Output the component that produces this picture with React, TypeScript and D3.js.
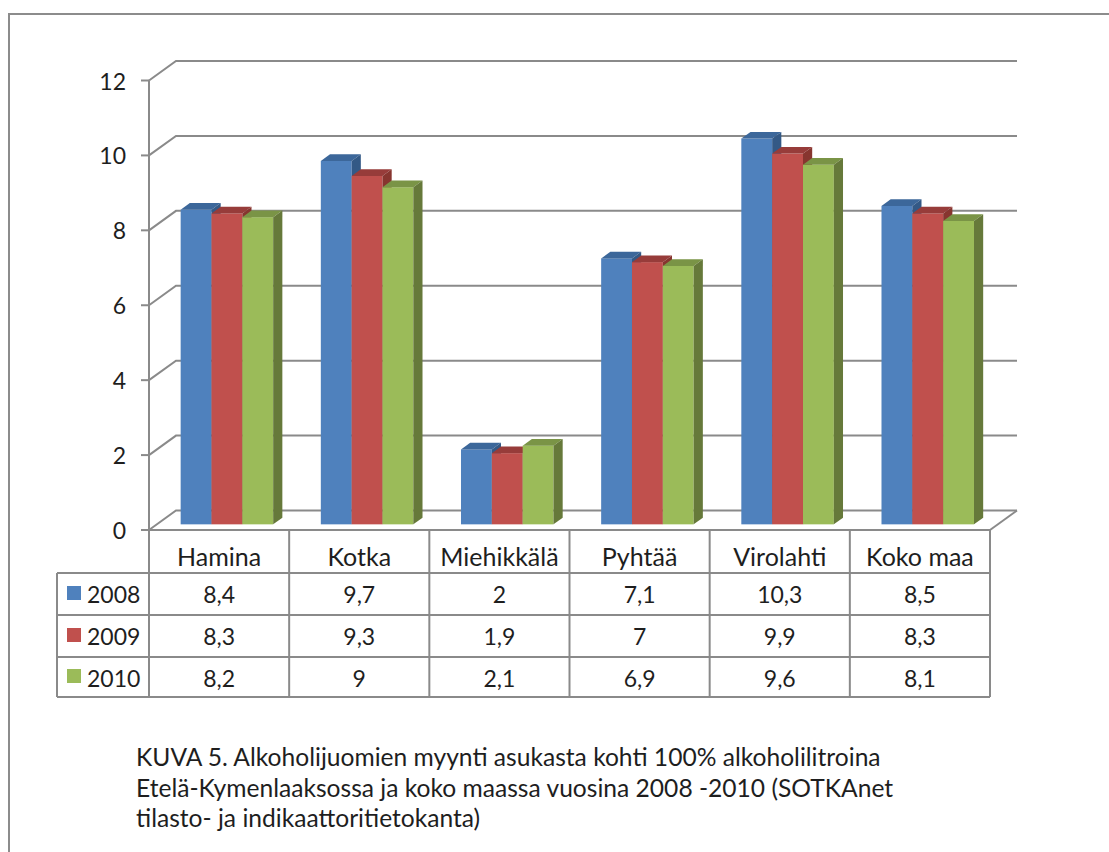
import React from "react";
import * as d3 from "d3";

const categories = ["Hamina", "Kotka", "Miehikkälä", "Pyhtää", "Virolahti", "Koko maa"];
const years = ["2008", "2009", "2010"];
const values2008 = [8.4, 9.7, 2, 7.1, 10.3, 8.5];
const values2009 = [8.3, 9.3, 1.9, 7, 9.9, 8.3];
const values2010 = [8.2, 9, 2.1, 6.9, 9.6, 8.1];
const yTicks = [0, 2, 4, 6, 8, 10, 12];
const captionLines = [
  "KUVA 5. Alkoholijuomien myynti asukasta kohti 100% alkoholilitroina",
  "Etelä-Kymenlaaksossa ja koko maassa vuosina 2008 -2010 (SOTKAnet",
  "tilasto- ja indikaattoritietokanta)",
];

const seriesValues = [values2008, values2009, values2010];
const frontColors = ["#4F81BD", "#C0504D", "#9BBB59"];
const topColors = ["#3C679A", "#973C3A", "#7A9446"];
const sideColors = ["#335986", "#87352F", "#66793A"];

const W = 1109;
const H = 852;
const FONT = "Lato, 'Open Sans', sans-serif";
const GRID = "#8A8A8A";
const TEXT = "#1E1E1E";

// plot geometry
const left = 149;
const right = 990;
const yBottom = 530;
const yTop = 80.5;
const depthX = 27;
const depthY = -19.5;
const barF0 = 0.29;
const barF1 = 0.63;

// table geometry
const legendLeft = 57;
const rowTops = [530, 573, 615, 657, 697];

const fmt = (v: number) => String(v).replace(".", ",");

export default function App() {
  const y = d3.scaleLinear().domain([0, 12]).range([yBottom, yTop]);
  const x = d3
    .scaleBand<string>()
    .domain(categories)
    .range([left, right])
    .paddingInner(0.34)
    .paddingOuter(0.17);
  const xs = d3.scaleBand<string>().domain(years).range([0, x.bandwidth()]);
  const cols = d3.scaleBand<string>().domain(categories).range([left, right]);

  const sx0 = depthX * barF0, sy0 = depthY * barF0;
  const sx1 = depthX * barF1, sy1 = depthY * barF1;

  const bars: React.ReactNode[] = [];
  categories.forEach((c, ci) => {
    years.forEach((yr, si) => {
      const v = seriesValues[si][ci];
      const xa = (x(c) as number) + (xs(yr) as number);
      const xb = xa + xs.bandwidth();
      const yv = y(v);
      const y0 = y(0);
      const pts = (arr: number[][]) => arr.map((p) => p.join(",")).join(" ");
      bars.push(
        <g key={c + yr}>
          <rect x={xa + sx0} y={yv + sy0} width={xb - xa} height={y0 - yv} fill={frontColors[si]} />
          <polygon
            points={pts([
              [xa + sx0, yv + sy0],
              [xb + sx0, yv + sy0],
              [xb + sx1, yv + sy1],
              [xa + sx1, yv + sy1],
            ])}
            fill={topColors[si]}
          />
          <polygon
            points={pts([
              [xb + sx0, yv + sy0],
              [xb + sx1, yv + sy1],
              [xb + sx1, y0 + sy1],
              [xb + sx0, y0 + sy0],
            ])}
            fill={sideColors[si]}
          />
        </g>
      );
    });
  });

  return (
    <svg
      width={W}
      height={H}
      style={{ position: "absolute", left: 0, top: 0, background: "#fff" }}
      fontFamily={FONT}
    >
      <rect x={0} y={0} width={W} height={H} fill="#fff" />
      {/* outer frame */}
      <rect x={9} y={14} width={W + 20} height={H + 20} fill="none" stroke="#8C8C8C" strokeWidth={2} />

      {/* back wall gridlines */}
      {yTicks.map((t) => (
        <polyline
          key={"g" + t}
          points={`${left},${y(t)} ${left + depthX},${y(t) + depthY} ${right + depthX},${y(t) + depthY}`}
          fill="none"
          stroke={GRID}
          strokeWidth={2}
        />
      ))}
      {/* floor right edge */}
      <line x1={right} y1={yBottom} x2={right + depthX} y2={yBottom + depthY} stroke={GRID} strokeWidth={2} />

      {/* bars */}
      {bars}

      {/* y axis */}
      <line x1={left} y1={yTop} x2={left} y2={rowTops[4]} stroke={GRID} strokeWidth={2} />
      {yTicks.map((t) => (
        <g key={"t" + t}>
          <line x1={left - 8} y1={y(t)} x2={left} y2={y(t)} stroke={GRID} strokeWidth={2} />
          <text x={126} y={y(t) + 9} textAnchor="end" fontSize={23} fill={TEXT}>
            {t}
          </text>
        </g>
      ))}

      {/* data table */}
      <line x1={left} y1={rowTops[0]} x2={right} y2={rowTops[0]} stroke={GRID} strokeWidth={2} />
      {rowTops.slice(1).map((r, i) => (
        <line key={"r" + i} x1={legendLeft} y1={r} x2={right} y2={r} stroke={GRID} strokeWidth={2} />
      ))}
      <line x1={legendLeft} y1={rowTops[1]} x2={legendLeft} y2={rowTops[4]} stroke={GRID} strokeWidth={2} />
      {categories.map((c) => (
        <line
          key={"v" + c}
          x1={(cols(c) as number) + cols.bandwidth()}
          y1={rowTops[0]}
          x2={(cols(c) as number) + cols.bandwidth()}
          y2={rowTops[4]}
          stroke={GRID}
          strokeWidth={2}
        />
      ))}
      {categories.map((c) => (
        <text
          key={"c" + c}
          x={(cols(c) as number) + cols.bandwidth() / 2}
          y={rowTops[0] + 36}
          textAnchor="middle"
          fontSize={25}
          fill={TEXT}
        >
          {c}
        </text>
      ))}
      {years.map((yr, si) => (
        <g key={"row" + yr}>
          <rect
            x={67}
            y={(rowTops[si + 1] + rowTops[si + 2]) / 2 - 8}
            width={14}
            height={14}
            fill={frontColors[si]}
          />
          <text x={87} y={rowTops[si + 1] + 30} fontSize={23} fill={TEXT}>
            {yr}
          </text>
          {categories.map((c, ci) => (
            <text
              key={c}
              x={(cols(c) as number) + cols.bandwidth() / 2}
              y={rowTops[si + 1] + 30}
              textAnchor="middle"
              fontSize={23}
              fill={TEXT}
            >
              {fmt(seriesValues[si][ci])}
            </text>
          ))}
        </g>
      ))}

      {/* caption */}
      {captionLines.map((l, i) => (
        <text key={"cap" + i} x={136} y={766 + i * 30.5} fontSize={24.6} fill={TEXT}>
          {l}
        </text>
      ))}
    </svg>
  );
}
